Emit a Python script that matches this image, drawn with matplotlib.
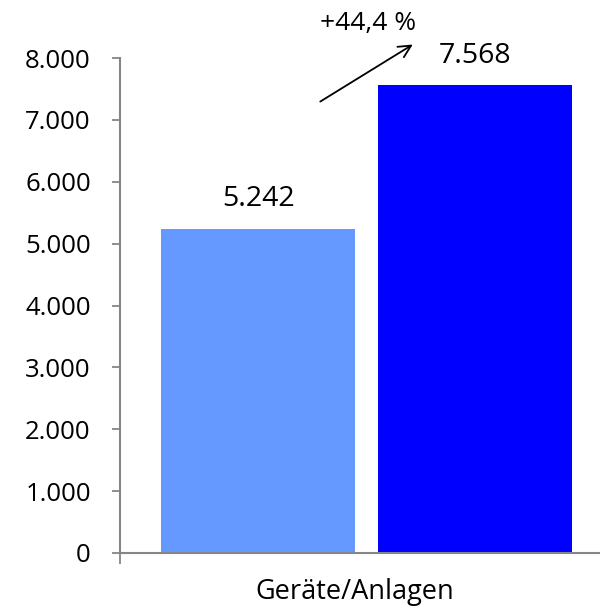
import matplotlib.pyplot as plt
from matplotlib.ticker import FuncFormatter

plt.rcParams['font.family'] = ['Open Sans', 'DejaVu Sans']

# data
category = 'Geräte/Anlagen'
values = [5242, 7568]
colors = ['#6699FF', '#0000FF']
yticks = [0, 1000, 2000, 3000, 4000, 5000, 6000, 7000, 8000]


def de_fmt(v, pos=None):
    return f'{int(round(v)):,}'.replace(',', '.')


fig = plt.figure(figsize=(6, 6.11), dpi=100)
ax = fig.add_axes([0.2, 0.095, 0.8, 0.81])

x = [0, 1]
ax.bar(x, values, width=0.894, color=colors)

ax.set_ylim(0, 8000)
ax.set_xlim(-0.636, 1.576)
ax.set_yticks(yticks)
ax.yaxis.set_major_formatter(FuncFormatter(de_fmt))
ax.tick_params(axis='y', direction='out', length=6, width=1.3, color='#868686',
               labelsize=18.5, pad=15)
ax.set_xticks([-0.636], minor=False)
ax.set_xticklabels([''])
ax.tick_params(axis='x', direction='out', length=8, width=1.3, color='#868686')

for s in ['top', 'right']:
    ax.spines[s].set_visible(False)
for s in ['left', 'bottom']:
    ax.spines[s].set_color('#868686')
    ax.spines[s].set_linewidth(1.5)

ax.text(0.49, -0.05, category, transform=ax.transAxes, ha='center', va='top',
        fontsize=19.5)

# value labels
for xi, v in zip(x, values):
    ax.annotate(de_fmt(v), (xi, v), xytext=(0, 21), textcoords='offset points',
                ha='center', va='center', fontsize=20.5)

# growth arrow
pct = (values[1] / values[0] - 1) * 100
ax.annotate('', xy=(0.724, 8242), xytext=(0.276, 7273),
            arrowprops=dict(arrowstyle='->', color='black', lw=1.3,
                            mutation_scale=22),
            annotation_clip=False)
ax.text(0.507, 8560, f'+{pct:.1f} %'.replace('.', ','), ha='center',
        va='center', fontsize=19, clip_on=False)

fig.savefig('out.png', dpi=100)
